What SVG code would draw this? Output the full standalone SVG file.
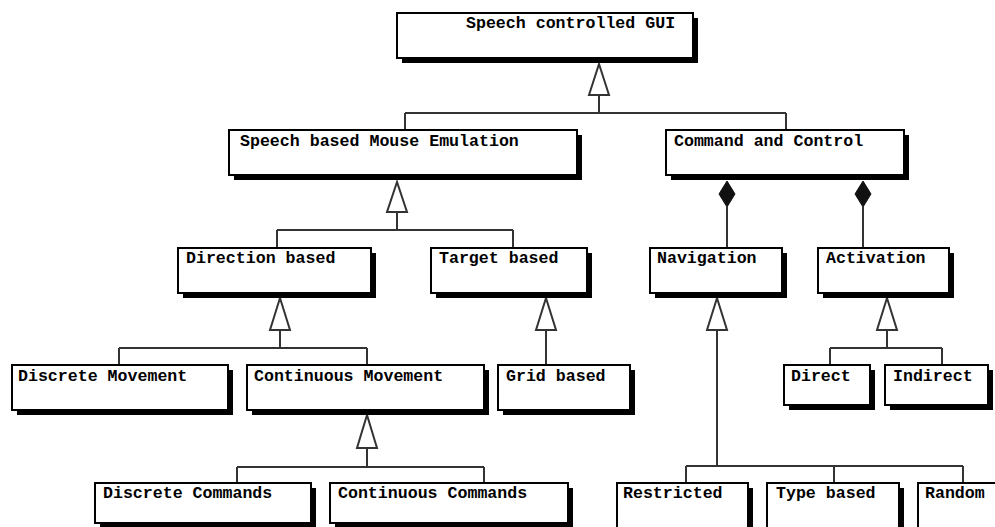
<svg xmlns="http://www.w3.org/2000/svg" width="995" height="527" viewBox="0 0 995 527">
  <style>
    .shadow { fill: #000; }
    .box { fill: #fff; stroke: #000; stroke-width: 2; }
    .label { font-family: "Liberation Mono", "Courier New", monospace; font-weight: bold; font-size: 16.6px; fill: #000; }
    .wire { fill: none; stroke: #333; stroke-width: 2; }
    .gen { fill: #fff; stroke: #333; stroke-width: 2; }
    .comp { fill: #111; stroke: #111; stroke-width: 1; }
  </style>
  <rect width="995" height="527" fill="#fff"/>

  <!-- connectors -->
  <g id="connectors">
    <!-- Speech controlled GUI generalization -->
    <path class="wire" d="M599 95 V113 M405 113 H786 M405 113 V130 M786 113 V130"/>
    <polygon class="gen" points="599,64 589,95 609,95"/>
    <!-- Speech based Mouse Emulation generalization -->
    <path class="wire" d="M397 212 V230 M277 230 H513 M277 230 V248 M513 230 V248"/>
    <polygon class="gen" points="397,182 387,212 407,212"/>
    <!-- Command and Control compositions -->
    <path class="wire" d="M727 207 V248 M863 207 V248"/>
    <polygon class="comp" points="727,181 735,194 727,207 719,194"/>
    <polygon class="comp" points="863,181 871,194 863,207 855,194"/>
    <!-- Direction based generalization -->
    <path class="wire" d="M280 330 V348 M119 348 H367 M119 348 V365 M367 348 V365"/>
    <polygon class="gen" points="280,298 270,330 290,330"/>
    <!-- Target based generalization -->
    <path class="wire" d="M546 330 V365"/>
    <polygon class="gen" points="546,298 536,330 556,330"/>
    <!-- Navigation generalization -->
    <path class="wire" d="M717 330 V466 M686 466 H963 M686 466 V483 M834 466 V483 M963 466 V483"/>
    <polygon class="gen" points="717,298 707,330 727,330"/>
    <!-- Activation generalization -->
    <path class="wire" d="M887 330 V348 M830 348 H942 M830 348 V365 M942 348 V365"/>
    <polygon class="gen" points="887,298 877,330 897,330"/>
    <!-- Continuous Movement generalization -->
    <path class="wire" d="M367 448 V467 M237 467 H484 M237 467 V483 M484 467 V483"/>
    <polygon class="gen" points="367,415 357,448 377,448"/>
  </g>

  <g id="speech-gui">
    <rect class="shadow" x="402" y="18" width="296" height="45"/>
    <rect class="box" x="397" y="13" width="296" height="45"/>
    <text class="label" x="466" y="28">Speech controlled GUI</text>
  </g>

  <g id="mouse-emulation">
    <rect class="shadow" x="234" y="135" width="348" height="45"/>
    <rect class="box" x="229" y="130" width="348" height="45"/>
    <text class="label" x="240" y="146">Speech based Mouse Emulation</text>
  </g>

  <g id="command-control">
    <rect class="shadow" x="671" y="135" width="238" height="45"/>
    <rect class="box" x="666" y="130" width="238" height="45"/>
    <text class="label" x="674" y="146">Command and Control</text>
  </g>

  <g id="direction-based">
    <rect class="shadow" x="183" y="253" width="193" height="45"/>
    <rect class="box" x="178" y="248" width="193" height="45"/>
    <text class="label" x="186" y="263">Direction based</text>
  </g>

  <g id="target-based">
    <rect class="shadow" x="436" y="253" width="156" height="45"/>
    <rect class="box" x="431" y="248" width="156" height="45"/>
    <text class="label" x="439" y="263">Target based</text>
  </g>

  <g id="navigation">
    <rect class="shadow" x="655" y="253" width="132" height="45"/>
    <rect class="box" x="650" y="248" width="132" height="45"/>
    <text class="label" x="657" y="263">Navigation</text>
  </g>

  <g id="activation">
    <rect class="shadow" x="823" y="253" width="131" height="45"/>
    <rect class="box" x="818" y="248" width="131" height="45"/>
    <text class="label" x="826" y="263">Activation</text>
  </g>

  <g id="discrete-movement">
    <rect class="shadow" x="17" y="370" width="216" height="45"/>
    <rect class="box" x="12" y="365" width="216" height="45"/>
    <text class="label" x="18" y="381">Discrete Movement</text>
  </g>

  <g id="continuous-movement">
    <rect class="shadow" x="252" y="370" width="237" height="45"/>
    <rect class="box" x="247" y="365" width="237" height="45"/>
    <text class="label" x="254" y="381">Continuous Movement</text>
  </g>

  <g id="grid-based">
    <rect class="shadow" x="503" y="370" width="132" height="45"/>
    <rect class="box" x="498" y="365" width="132" height="45"/>
    <text class="label" x="506" y="381">Grid based</text>
  </g>

  <g id="direct">
    <rect class="shadow" x="789" y="370" width="86" height="40"/>
    <rect class="box" x="784" y="365" width="86" height="40"/>
    <text class="label" x="791" y="381">Direct</text>
  </g>

  <g id="indirect">
    <rect class="shadow" x="890" y="370" width="103" height="40"/>
    <rect class="box" x="885" y="365" width="103" height="40"/>
    <text class="label" x="893" y="381">Indirect</text>
  </g>

  <g id="discrete-commands">
    <rect class="shadow" x="100" y="488" width="216" height="40"/>
    <rect class="box" x="95" y="483" width="216" height="40"/>
    <text class="label" x="103" y="498">Discrete Commands</text>
  </g>

  <g id="continuous-commands">
    <rect class="shadow" x="335" y="488" width="238" height="40"/>
    <rect class="box" x="330" y="483" width="238" height="40"/>
    <text class="label" x="338" y="498">Continuous Commands</text>
  </g>

  <g id="restricted">
    <rect class="shadow" x="622" y="488" width="131" height="50"/>
    <rect class="box" x="617" y="483" width="131" height="50"/>
    <text class="label" x="623" y="498">Restricted</text>
  </g>

  <g id="type-based">
    <rect class="shadow" x="772" y="488" width="132" height="50"/>
    <rect class="box" x="767" y="483" width="132" height="50"/>
    <text class="label" x="776" y="498">Type based</text>
  </g>

  <g id="random">
    <rect class="shadow" x="923" y="488" width="100" height="50"/>
    <rect class="box" x="918" y="483" width="100" height="50"/>
    <text class="label" x="925" y="498">Random</text>
  </g>
</svg>
